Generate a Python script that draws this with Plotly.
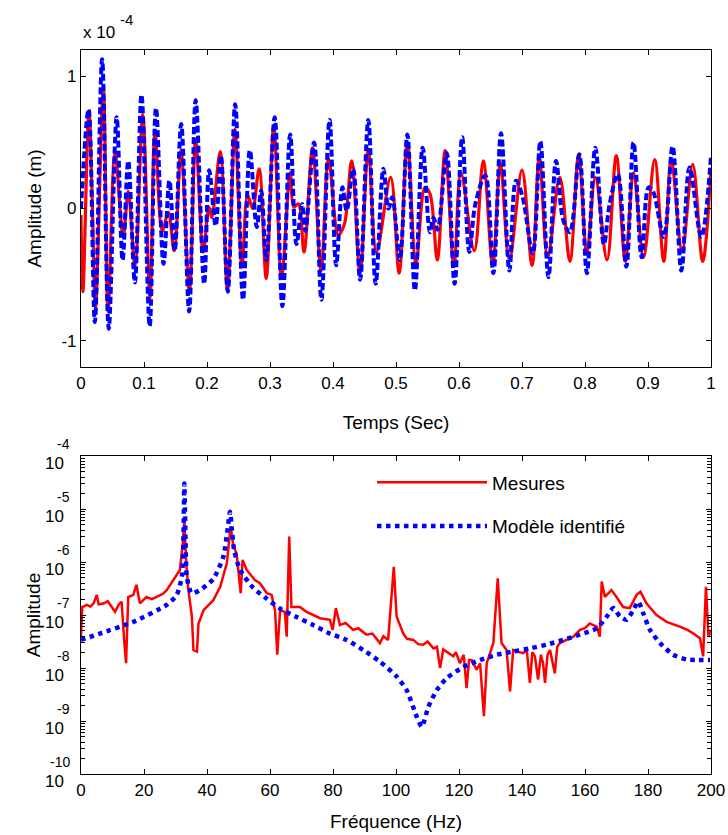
import plotly.graph_objects as go

# ---------------- Top panel: time response (units of 1e-4 m) ----------------
red_t = [0.000, 0.003, 0.0125, 0.0175, 0.023, 0.0354, 0.043, 0.054, 0.067, 0.075,
         0.0857, 0.098, 0.1095, 0.1175, 0.129, 0.1386, 0.148, 0.1587, 0.172, 0.182,
         0.194, 0.203, 0.2075, 0.221, 0.2325, 0.2444, 0.2555, 0.2645, 0.2725, 0.2828,
         0.294, 0.306, 0.3183, 0.332, 0.3378, 0.345, 0.354, 0.3675, 0.381, 0.393,
         0.4085, 0.418, 0.4296, 0.443, 0.456, 0.469, 0.4915, 0.505, 0.518, 0.5317,
         0.546, 0.554, 0.5656, 0.578, 0.592, 0.603, 0.6243, 0.6386, 0.6535, 0.6656,
         0.68, 0.700, 0.716, 0.7275, 0.7407, 0.760, 0.776, 0.790, 0.803, 0.8164,
         0.835, 0.8497, 0.864, 0.877, 0.893, 0.9106, 0.925, 0.937, 0.954, 0.971,
         0.9868, 1.0]
red_v = [-0.05, -0.63, 0.74, 0.11, -0.75, 0.91, -0.78, 0.42, -0.21, 0.13,
         -0.43, 0.71, -0.68, 0.59, -0.17, -0.03, -0.32, 0.44, -0.63, 0.52,
         -0.33, 0.01, -0.07, 0.43, -0.62, 0.60, -0.44, 0.10, 0.00, 0.30,
         -0.53, 0.63, -0.52, 0.27, 0.01, 0.035, -0.33, 0.46, -0.47, 0.38,
         -0.20, -0.12, 0.36, -0.49, 0.45, -0.33, 0.235, -0.49, 0.50, -0.42,
         0.16, 0.11, -0.39, 0.44, -0.44, 0.27, -0.32, 0.36, -0.43, 0.34,
         -0.39, 0.29, -0.43, 0.39, -0.37, 0.235, -0.40, 0.41, -0.34, 0.235,
         -0.39, 0.40, -0.40, 0.27, -0.37, 0.37, -0.40, 0.37, -0.32, 0.335,
         -0.40, 0.31]

blue_t = [0.0, 0.012, 0.022, 0.0335, 0.044, 0.0566, 0.066, 0.075, 0.0855, 0.096,
          0.109, 0.119, 0.131, 0.1403, 0.1487, 0.159, 0.1717, 0.182, 0.1955, 0.2035,
          0.2138, 0.222, 0.233, 0.2447, 0.2572, 0.268, 0.279, 0.286, 0.294, 0.3074,
          0.3196, 0.332, 0.342, 0.351, 0.356, 0.37, 0.3815, 0.3945, 0.405, 0.415,
          0.4217, 0.432, 0.443, 0.456, 0.4677, 0.48, 0.488, 0.494, 0.506, 0.518,
          0.53, 0.5423, 0.554, 0.5595, 0.566, 0.5804, 0.593, 0.605, 0.6164, 0.626,
          0.6418, 0.6545, 0.6667, 0.68, 0.6905, 0.701, 0.717, 0.729, 0.742, 0.754,
          0.7656, 0.776, 0.791, 0.803, 0.8164, 0.83, 0.839, 0.852, 0.8656, 0.877,
          0.890, 0.901, 0.908, 0.925, 0.939, 0.953, 0.966, 0.9846, 1.0]
blue_v = [0.0, 0.75, -0.86, 1.13, -0.91, 0.69, -0.39, 0.36, -0.56, 0.86,
          -0.89, 0.76, -0.42, 0.21, -0.32, 0.64, -0.78, 0.82, -0.57, 0.29,
          -0.13, 0.40, -0.63, 0.79, -0.69, 0.44, -0.14, 0.135, -0.39, 0.69,
          -0.74, 0.56, -0.27, 0.035, -0.17, 0.50, -0.69, 0.67, -0.43, 0.16,
          -0.015, 0.30, -0.54, 0.67, -0.57, 0.30, 0.00, 0.085, -0.39, 0.56,
          -0.62, 0.46, -0.18, -0.07, -0.16, 0.42, -0.57, 0.54, -0.33, 0.035,
          0.25, -0.49, 0.57, -0.47, 0.21, 0.085, -0.34, 0.51, -0.52, 0.36,
          -0.09, -0.18, 0.41, -0.49, 0.46, -0.27, 0.03, 0.26, -0.44, 0.50,
          -0.37, 0.16, 0.13, -0.215, 0.47, -0.47, 0.31, -0.215, 0.40]

time_ticks = [0, 0.1, 0.2, 0.3, 0.4, 0.5, 0.6, 0.7, 0.8, 0.9, 1]
time_tick_text = ["0", "0.1", "0.2", "0.3", "0.4", "0.5", "0.6", "0.7", "0.8", "0.9", "1"]
amp_ticks = [-1, 0, 1]
amp_tick_text = ["-1", "0", "1"]

# ---------------- Bottom panel: frequency response (log10 amplitude) ----------------
meas_f = [0.0, 0.4, 1.9, 3.0, 4.0, 5.0, 5.6, 7.3, 8.5, 9.5, 10.8, 12.0, 12.9, 13.7, 14.3,
          15.0, 16.6, 17.6, 18.7, 20.8, 22.5, 24.0, 26.0, 27.2, 29.3, 31.4, 32.3, 32.8,
          33.4, 34.1, 35.2, 35.7, 36.8, 37.3, 38.9, 42.0, 44.2, 46.3, 47.5, 48.4, 49.4,
          50.3, 50.7, 51.3, 52.6, 55.2, 56.8, 59.0, 60.5, 61.6, 62.3, 63.2, 64.7, 65.3,
          66.1, 66.8, 69.5, 71.6, 75.9, 79.0, 79.9, 80.9, 82.2, 84.0, 86.4, 88.0, 90.6,
          92.5, 94.9, 96.0, 97.5, 98.4, 99.3, 100.2, 102.3, 103.5, 105.5, 107.0, 108.7,
          110.0, 111.9, 113.0, 114.0, 115.0, 116.1, 118.2, 119.0, 120.3, 121.5, 122.4,
          123.2, 124.0, 125.6, 126.7, 127.9, 128.8, 130.9, 132.3, 133.5, 135.1, 136.2,
          137.2, 139.0, 140.4, 141.5, 142.5, 143.3, 144.1, 145.1, 146.0, 146.7, 147.3,
          148.1, 148.9, 150.4, 151.2, 152.0, 154.0, 156.3, 158.4, 160.0, 161.5, 163.7,
          164.7, 165.3, 166.3, 168.4, 170.0, 172.1, 174.2, 176.4, 177.6, 179.5, 182.7,
          185.9, 190.1, 192.5, 194.4, 196.5, 197.5, 198.4, 199.2, 200.0]
meas_log = [-7.40, -6.85, -6.81, -6.84, -6.78, -6.62, -6.80, -6.78, -6.74, -6.82, -6.94,
            -6.80, -6.75, -7.47, -7.91, -6.66, -6.62, -6.43, -6.78, -6.66, -6.70, -6.66,
            -6.60, -6.53, -6.34, -6.15, -5.65, -5.21, -6.02, -6.53, -7.03, -7.66, -7.69,
            -7.16, -6.91, -6.72, -6.47, -6.02, -5.33, -5.71, -5.84, -6.28, -6.59, -5.96,
            -6.15, -6.34, -6.40, -6.59, -6.62, -6.91, -7.75, -6.91, -6.94, -7.41, -5.52,
            -6.85, -6.85, -6.94, -7.06, -7.09, -7.28, -6.87, -7.19, -7.15, -7.28, -7.25,
            -7.37, -7.35, -7.53, -7.40, -7.47, -6.78, -6.09, -7.03, -7.35, -7.45, -7.47,
            -7.55, -7.56, -7.50, -7.63, -7.60, -8.00, -7.65, -7.69, -7.78, -7.70, -7.91,
            -7.75, -8.38, -7.85, -7.85, -8.03, -7.91, -8.91, -7.91, -7.53, -6.31, -7.53,
            -7.66, -8.44, -7.66, -7.70, -7.72, -7.65, -8.28, -7.70, -7.78, -8.22, -7.75,
            -7.91, -8.28, -7.75, -7.66, -8.10, -7.60, -7.53, -7.48, -7.41, -7.28, -7.25,
            -7.16, -7.22, -7.41, -6.37, -6.66, -6.53, -6.66, -6.85, -6.87, -6.62, -6.56,
            -6.78, -7.00, -7.13, -7.22, -7.28, -7.35, -7.44, -7.78, -6.47, -7.41, -7.28]

model_f = [0, 6, 16.6, 27.2, 30.4, 32.0, 32.5, 32.8, 33.2, 33.6, 35.1, 37.8, 42.0, 45.2,
           46.5, 47.3, 48.0, 48.6, 50.5, 54.7, 58.9, 63.2, 68.5, 73.7, 79.0, 84.3, 89.6,
           94.9, 100.2, 103.4, 106.6, 108.2, 110.3, 112.9, 116.1, 121.4, 126.7, 132.0,
           137.2, 142.5, 147.8, 153.1, 158.4, 163.7, 166.9, 169.0, 171.1, 173.2, 175.3,
           176.9, 178.5, 180.6, 183.8, 188.0, 192.3, 196.0, 199.7]
model_log = [-7.47, -7.35, -7.13, -6.81, -6.62, -6.28, -5.60, -4.52, -5.60, -6.28, -6.59,
             -6.53, -6.32, -5.90, -5.40, -5.05, -5.45, -5.77, -6.15, -6.49, -6.69, -6.88,
             -7.04, -7.19, -7.35, -7.47, -7.66, -7.88, -8.16, -8.42, -8.92, -9.11, -8.73,
             -8.42, -8.19, -7.98, -7.85, -7.75, -7.69, -7.63, -7.56, -7.47, -7.37, -7.25,
             -7.03, -6.87, -7.03, -7.09, -6.91, -6.75, -6.97, -7.28, -7.53, -7.75, -7.84,
             -7.85, -7.85]

freq_ticks = [0, 20, 40, 60, 80, 100, 120, 140, 160, 180, 200]
decade_exps = [-4, -5, -6, -7, -8, -9, -10]

meas_amp = [10 ** v for v in meas_log]
model_amp = [10 ** v for v in model_log]

RED = "#ff0000"
BLUE = "#0000ff"
FONT = "Liberation Sans, Arial, sans-serif"

fig = go.Figure()

fig.add_trace(go.Scatter(x=red_t, y=red_v, mode="lines", line=dict(color=RED, width=3.2, shape="spline", smoothing=1.0),
                         showlegend=False, xaxis="x", yaxis="y"))
fig.add_trace(go.Scatter(x=blue_t, y=blue_v, mode="lines", line=dict(color=BLUE, width=4, dash="7px,3px", shape="spline", smoothing=1.0),
                         showlegend=False, xaxis="x", yaxis="y"))

fig.add_trace(go.Scatter(x=meas_f, y=meas_amp, mode="lines", name="Mesures", legendgroup="a",
                         line=dict(color=RED, width=2.5), xaxis="x2", yaxis="y2"))
fig.add_trace(go.Scatter(x=model_f, y=model_amp, mode="lines", name="Modèle identifié", legendgroup="b",
                         line=dict(color=BLUE, width=4.5, dash="dot", shape="spline", smoothing=0.6), xaxis="x2", yaxis="y2"))

axis_common = dict(showline=True, linecolor="black", linewidth=1.2, mirror="ticks", ticks="inside",
                   ticklen=5, tickcolor="black", showgrid=False, zeroline=False, automargin=False,
                   tickfont=dict(family=FONT, size=17, color="black"))

xd = [81 / 728, 711 / 728]
fig.update_layout(
    width=728, height=835, paper_bgcolor="white", plot_bgcolor="white",
    margin=dict(l=0, r=0, t=0, b=0, autoexpand=False),
    font=dict(family=FONT, color="black"),
    xaxis=dict(domain=xd, anchor="y", range=[0, 1], tickvals=time_ticks, ticktext=time_tick_text,
               title=dict(text="Temps (Sec)", font=dict(size=19, family=FONT), standoff=24), **axis_common),
    yaxis=dict(domain=[(835 - 367) / 835, (835 - 50) / 835], anchor="x", range=[-1.2, 1.2],
               tickvals=amp_ticks, ticktext=amp_tick_text,
               title=dict(text="Amplitude (m)", font=dict(size=19, family=FONT), standoff=14), **axis_common),
    xaxis2=dict(domain=xd, anchor="y2", range=[0, 200], tickvals=freq_ticks,
                title=dict(text="Fréquence (Hz)", font=dict(size=19, family=FONT), standoff=16), **axis_common),
    yaxis2=dict(domain=[(835 - 774) / 835, (835 - 456) / 835], anchor="x2", type="log", range=[-10, -4],
                tickmode="linear", tick0=0, dtick=1, showticklabels=False,
                minor=dict(ticks="inside", ticklen=4, tickcolor="black", showgrid=False, dtick="D1"),
                title=dict(text="Amplitude", font=dict(size=19, family=FONT), standoff=34), **axis_common),
    legend=dict(x=0.511, y=0.445, xanchor="left", yanchor="top", bgcolor="rgba(0,0,0,0)",
                font=dict(family=FONT, size=19, color="black"), itemwidth=110, tracegroupgap=16),
)

annotations = [
    dict(text="x 10", x=81 / 728, y=(835 - 32) / 835, xref="paper", yref="paper", xanchor="left", yanchor="middle",
         showarrow=False, font=dict(family=FONT, size=17, color="black")),
    dict(text="-4", x=118 / 728, y=(835 - 19) / 835, xref="paper", yref="paper", xanchor="left", yanchor="middle",
         showarrow=False, font=dict(family=FONT, size=15, color="black")),
]
for e in decade_exps:
    annotations.append(dict(text="10", x=66 / 728, y=e, xref="paper", yref="y2", xanchor="right", yanchor="middle",
                            yshift=-7, showarrow=False, font=dict(family=FONT, size=17, color="black")))
    annotations.append(dict(text=str(e), x=72 / 728, y=e, xref="paper", yref="y2", xanchor="right", yanchor="middle",
                            yshift=12, showarrow=False, font=dict(family=FONT, size=14, color="black")))
fig.update_layout(annotations=annotations)

fig.write_html("out.html", config={"displayModeBar": False},
               post_script="document.body.style.margin='0';document.body.style.padding='0';")
